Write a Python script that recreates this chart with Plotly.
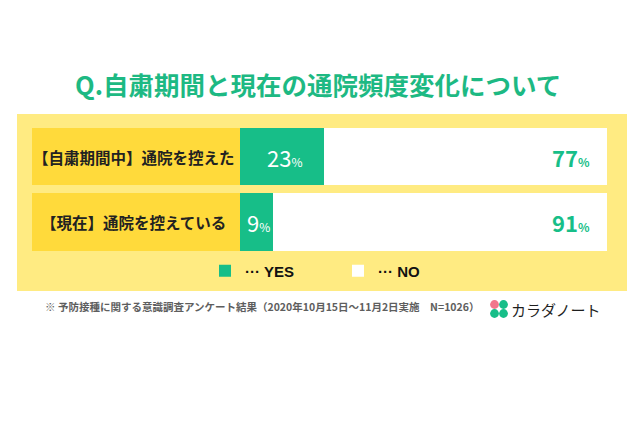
import plotly.graph_objects as go

# ---- data ----
title = "Q.自粛期間と現在の通院頻度変化について"
categories = ["【自粛期間中】通院を控えた", "【現在】通院を控えている"]
yes_values = [23, 9]
no_values = [77, 91]
series_names = ["··· YES", "··· NO"]
footnote = "※ 予防接種に関する意識調査アンケート結果（2020年10月15日～11月2日実施　N=1026）"
brand = "カラダノート"

W, H = 640, 426
GREEN = "#17BE88"
TITLE_GREEN = "#1DB983"
PANEL = "#FFEB82"
LABEL_BG = "#FFDA3B"
FONT = "Noto Sans CJK JP"

def px(x):
    return x / W

def py(y):
    return 1 - y / H

fig = go.Figure()

# label boxes (category column)
fig.add_trace(go.Bar(
    y=categories, x=[1] * len(categories), orientation="h",
    xaxis="x2", yaxis="y", marker=dict(color=LABEL_BG, line=dict(width=0)),
    showlegend=False, hoverinfo="skip",
))

fig.add_trace(go.Bar(
    y=categories, x=yes_values, orientation="h", name=series_names[0],
    marker=dict(color=GREEN, line=dict(width=0)), hoverinfo="skip",
))
fig.add_trace(go.Bar(
    y=categories, x=no_values, orientation="h", name=series_names[1],
    marker=dict(color="#FFFFFF", line=dict(width=0)), hoverinfo="skip",
))

annotations = []
# category labels
for c in categories:
    annotations.append(dict(
        x=0.49, y=c, xref="x2", yref="y", text=c, showarrow=False,
        font=dict(family=FONT, size=15.5, color="#222222", weight="bold"),
        xanchor="center", yanchor="middle",
    ))
# value labels
for c, yv, nv in zip(categories, yes_values, no_values):
    annotations.append(dict(
        x=yv / 2, y=c, xref="x", yref="y", xshift=2,
        text=f"{yv}<span style='font-size:12px'>%</span>", showarrow=False,
        font=dict(family=FONT, size=22, color="#FFFFFF"),
        xanchor="center", yanchor="middle",
    ))
    annotations.append(dict(
        x=yv + nv, y=c, xref="x", yref="y", xshift=-15,
        text=f"{nv}<span style='font-size:12px'>%</span>", showarrow=False,
        font=dict(family=FONT, size=22, color=GREEN, weight="bold"),
        xanchor="right", yanchor="middle",
    ))
# title
annotations.append(dict(
    x=px(318), y=py(84), xref="paper", yref="paper", text=title, showarrow=False,
    font=dict(family=FONT, size=25.5, color=TITLE_GREEN, weight="bold"),
    xanchor="center", yanchor="middle",
))
# footnote
annotations.append(dict(
    x=px(43), y=py(306), xref="paper", yref="paper", text=footnote, showarrow=False,
    font=dict(family=FONT, size=10.5, color="#5E5E5E", weight="bold"),
    xanchor="left", yanchor="middle",
))
# brand
annotations.append(dict(
    x=px(509), y=py(309), xref="paper", yref="paper", text=brand, showarrow=False,
    font=dict(family=FONT, size=15, color="#1E1E1E"),
    xanchor="left", yanchor="middle",
))

shapes = [dict(
    type="rect", xref="paper", yref="paper", layer="below",
    x0=px(17), x1=px(627), y0=py(291), y1=py(114),
    fillcolor=PANEL, line=dict(width=0),
)]
# clover logo
leaves = [(494.5, 304.5, "#F2778C"), (503.5, 304.5, GREEN),
          (494.5, 313.5, GREEN), (503.5, 313.5, GREEN)]
for cx, cy, col in leaves:
    r = 4.4
    shapes.append(dict(
        type="circle", xref="paper", yref="paper",
        x0=px(cx - r), x1=px(cx + r), y0=py(cy + r), y1=py(cy - r),
        fillcolor=col, line=dict(width=0),
    ))

fig.update_layout(
    width=W, height=H, margin=dict(l=0, r=0, t=0, b=0),
    paper_bgcolor="#FFFFFF", plot_bgcolor="rgba(0,0,0,0)",
    barmode="stack", bargap=8 / 65.5,
    xaxis=dict(domain=[px(240), px(607)], range=[0, 100], visible=False, fixedrange=True),
    xaxis2=dict(domain=[px(32), px(240)], range=[0, 1], visible=False, anchor="y", fixedrange=True),
    yaxis=dict(domain=[1 - 254.75 / H, 1 - 123.75 / H], categoryorder="array",
               categoryarray=categories, range=[len(categories) - 0.5, -0.5],
               visible=False, fixedrange=True),
    showlegend=True,
    legend=dict(
        orientation="h", x=px(205), y=py(271), xanchor="left", yanchor="middle",
        bgcolor="rgba(0,0,0,0)", entrywidth=88, entrywidthmode="pixels",
        font=dict(family="Liberation Sans", size=15, color="#111111", weight="bold"),
        traceorder="normal",
    ),
    annotations=annotations, shapes=shapes,
)

fig.write_html("out.html")
